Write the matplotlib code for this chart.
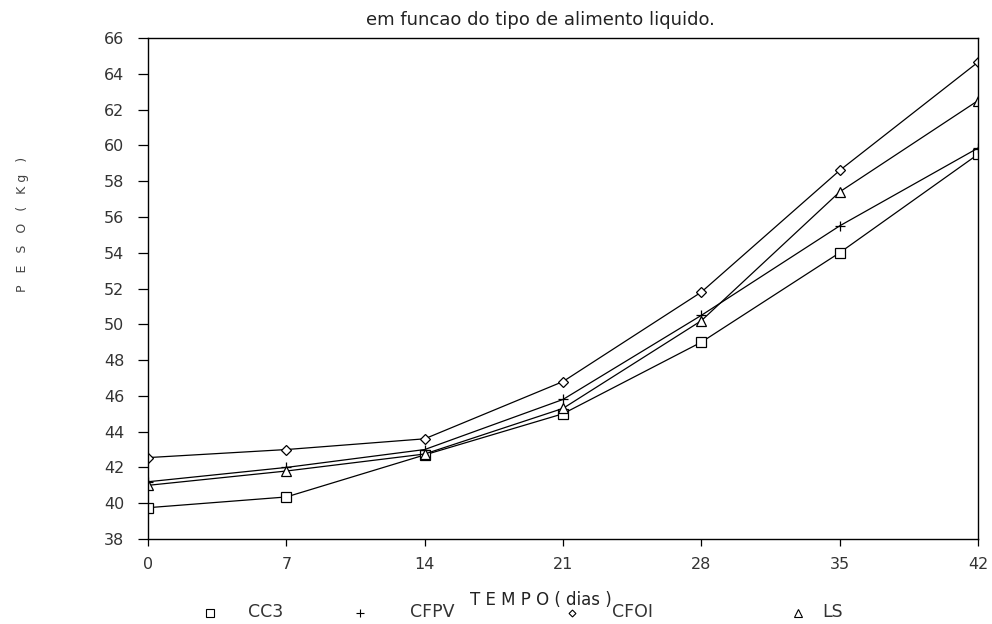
import matplotlib
matplotlib.use("Agg")
import matplotlib.pyplot as plt
from matplotlib.lines import Line2D

plt.rcParams["font.family"] = ["DejaVu Sans"]

dias = [0, 7, 14, 21, 28, 35, 42]
cc3 = [39.75, 40.35, 42.7, 45.0, 49.0, 54.0, 59.5]
cfpv = [41.2, 42.0, 43.0, 45.8, 50.5, 55.5, 59.85]
cfoi = [42.55, 43.0, 43.6, 46.8, 51.8, 58.6, 64.65]
ls = [41.0, 41.8, 42.75, 45.3, 50.2, 57.4, 62.5]

series = [
    ("CC3", cc3, "s", 7),
    ("CFPV", cfpv, "+", 7),
    ("CFOI", cfoi, "D", 5),
    ("LS", ls, "^", 7),
]

fig = plt.figure(figsize=(9.92, 6.24), dpi=100)
ax = fig.add_axes([0.1492, 0.1362, 0.8367, 0.8029])

for name, vals, mk, ms in series:
    ax.plot(dias, vals, color="black", lw=0.9, marker=mk, ms=ms,
            mfc="white", mec="black", mew=0.9)

ax.set_xlim(0, 42)
ax.set_ylim(38, 66)
ax.set_xticks(dias)
ax.set_yticks(range(38, 67, 2))
ax.tick_params(direction="out", width=0.9, labelsize=11.5,
               labelcolor="#333333")
ax.tick_params(axis="y", length=7, pad=10)
ax.tick_params(axis="x", length=5, pad=8)
for s in ax.spines.values():
    s.set_linewidth(1.0)

fig.text(0.545, 0.968, "em funcao do tipo de alimento liquido.",
         ha="center", va="center", fontsize=13, color="#222222")
fig.text(0.545, 0.038, "T E M P O ( dias )", ha="center", va="center",
         fontsize=12, color="#222222")
fig.text(0.023, 0.64, "P   E   S   O   (   K g   )", ha="center", va="center",
         rotation=90, fontsize=9, color="#444444")

# legend row along the bottom
mk_x = [0.212, 0.363, 0.577, 0.804]
tx_x = [0.250, 0.413, 0.617, 0.829]
for (name, vals, mk, ms), mx, txx in zip(series, mk_x, tx_x):
    fig.add_artist(Line2D([mx], [0.018], marker=mk, ms=ms - 1.5,
                          mfc="white", mec="black", mew=0.8,
                          transform=fig.transFigure))
    fig.text(txx, 0.020, name, ha="left", va="center", fontsize=12.5,
             color="#333333")

fig.savefig("out.png", dpi=100)
